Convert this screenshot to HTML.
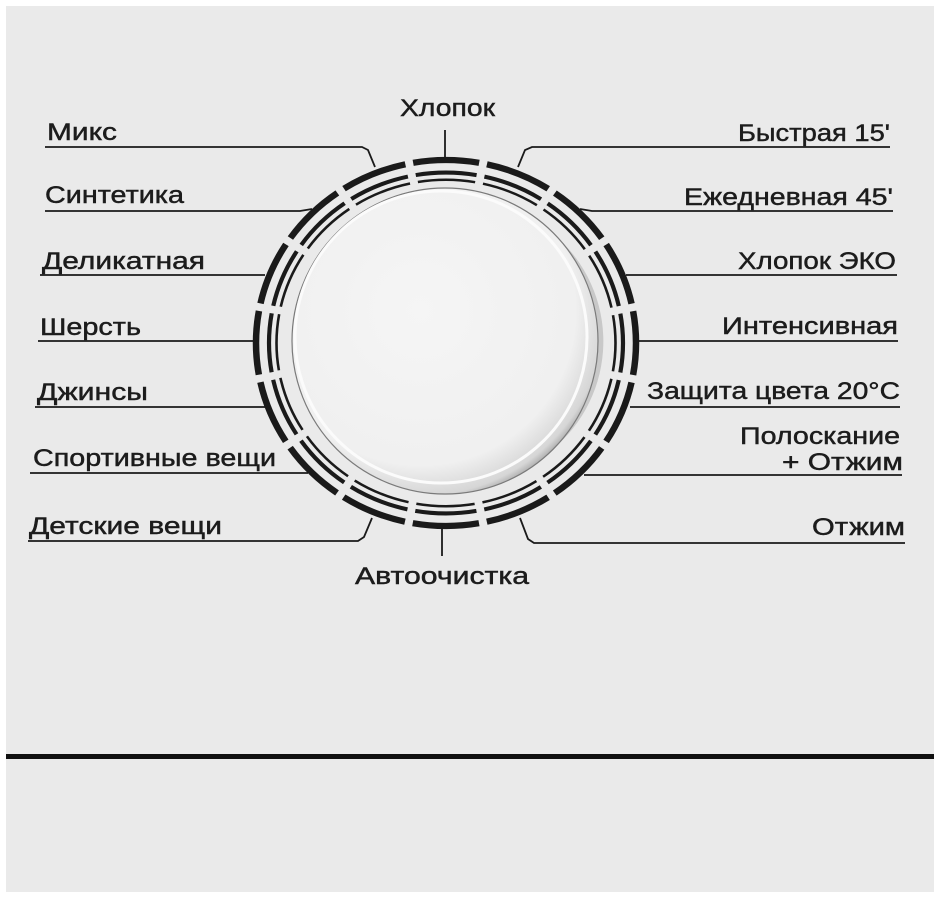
<!DOCTYPE html>
<html><head><meta charset="utf-8"><style>
html,body{margin:0;padding:0;background:#fff;}
svg{display:block;}
text{font-family:"Liberation Sans","DejaVu Sans",sans-serif;font-size:24px;fill:#1c1c1c;stroke:#1c1c1c;stroke-width:0.45px;}
</style></head><body>
<svg width="940" height="899" viewBox="0 0 940 899" xmlns="http://www.w3.org/2000/svg">
<defs>
<radialGradient id="kg" cx="0.42" cy="0.4" r="0.65">
<stop offset="0" stop-color="#f5f5f5"/><stop offset="0.78" stop-color="#f0f0f0"/><stop offset="0.93" stop-color="#d6d6d6"/><stop offset="1" stop-color="#8e8e8e"/>
</radialGradient>
</defs>
<rect x="0" y="0" width="940" height="899" fill="#fff"/>
<rect x="6" y="6" width="928" height="886" fill="#eaeaea"/>
<rect x="6" y="754" width="928" height="5" fill="#111"/>

<g fill="none" stroke="#1a1a1a" stroke-width="1.8">
<polyline points="45,147 362,147 368,150 375,167"/>
<polyline points="45,211 300,211 312,209"/>
<polyline points="40,275 265,275"/>
<polyline points="38,341 256,341"/>
<polyline points="35,407 265,407"/>
<polyline points="30,473 308,473"/>
<polyline points="28,541 358,541 364,537 372,518"/>
<polyline points="890,147 532,147 525,150 518,167"/>
<polyline points="893,211 592,211 580,209"/>
<polyline points="897,275 626,275"/>
<polyline points="898,341 637,341"/>
<polyline points="900,407 630,407"/>
<polyline points="902,475 584,475"/>
<polyline points="905,543 534,543 528,539 520,518"/>
<line x1="445" y1="130" x2="445" y2="157"/>
<line x1="442" y1="529" x2="442" y2="556"/>
</g>

<g transform="translate(446,343) scale(1,0.963) rotate(-90)" fill="none" stroke="#1a1a1a">
<circle r="190" stroke-width="6.5" stroke-dasharray="66.6 8" stroke-dashoffset="33.3"/>
<circle r="177" stroke-width="4.2" stroke-dasharray="61.5 8" stroke-dashoffset="30.75"/>
<circle r="169.5" stroke-width="2.6" stroke-dasharray="58.6 8" stroke-dashoffset="29.3"/>
</g>

<circle cx="445" cy="341" r="153" fill="url(#kg)"/>
<path d="M 560 240 A 150 150 0 0 1 545 455 A 140 140 0 0 0 560 240 Z" fill="#b0b0b0" opacity="0.6"/>
<circle cx="445" cy="341" r="153" fill="none" stroke="#7a7a7a" stroke-width="1.2"/>
<circle cx="441" cy="337" r="146" fill="none" stroke="#fbfbfb" stroke-width="3"/>

<text x="47" y="140" textLength="70" lengthAdjust="spacingAndGlyphs">Микс</text>
<text x="45" y="203" textLength="139" lengthAdjust="spacingAndGlyphs">Синтетика</text>
<text x="42" y="269" textLength="163" lengthAdjust="spacingAndGlyphs">Деликатная</text>
<text x="40" y="335" textLength="101" lengthAdjust="spacingAndGlyphs">Шерсть</text>
<text x="37" y="400" textLength="111" lengthAdjust="spacingAndGlyphs">Джинсы</text>
<text x="33" y="466" textLength="243" lengthAdjust="spacingAndGlyphs">Спортивные вещи</text>
<text x="29" y="534" textLength="193" lengthAdjust="spacingAndGlyphs">Детские вещи</text>
<text x="400" y="116" textLength="95" lengthAdjust="spacingAndGlyphs">Хлопок</text>
<text x="738" y="141" textLength="152" lengthAdjust="spacingAndGlyphs">Быстрая 15'</text>
<text x="684" y="205" textLength="209" lengthAdjust="spacingAndGlyphs">Ежедневная 45'</text>
<text x="738" y="269" textLength="158" lengthAdjust="spacingAndGlyphs">Хлопок ЭКО</text>
<text x="722" y="334" textLength="176" lengthAdjust="spacingAndGlyphs">Интенсивная</text>
<text x="647" y="399" textLength="253" lengthAdjust="spacingAndGlyphs">Защита цвета 20°С</text>
<text x="740" y="444" textLength="160" lengthAdjust="spacingAndGlyphs">Полоскание</text>
<text x="782" y="470" textLength="121" lengthAdjust="spacingAndGlyphs">+ Отжим</text>
<text x="812" y="535" textLength="93" lengthAdjust="spacingAndGlyphs">Отжим</text>
<text x="355" y="584" textLength="174" lengthAdjust="spacingAndGlyphs">Автоочистка</text>
</svg>
</body></html>
